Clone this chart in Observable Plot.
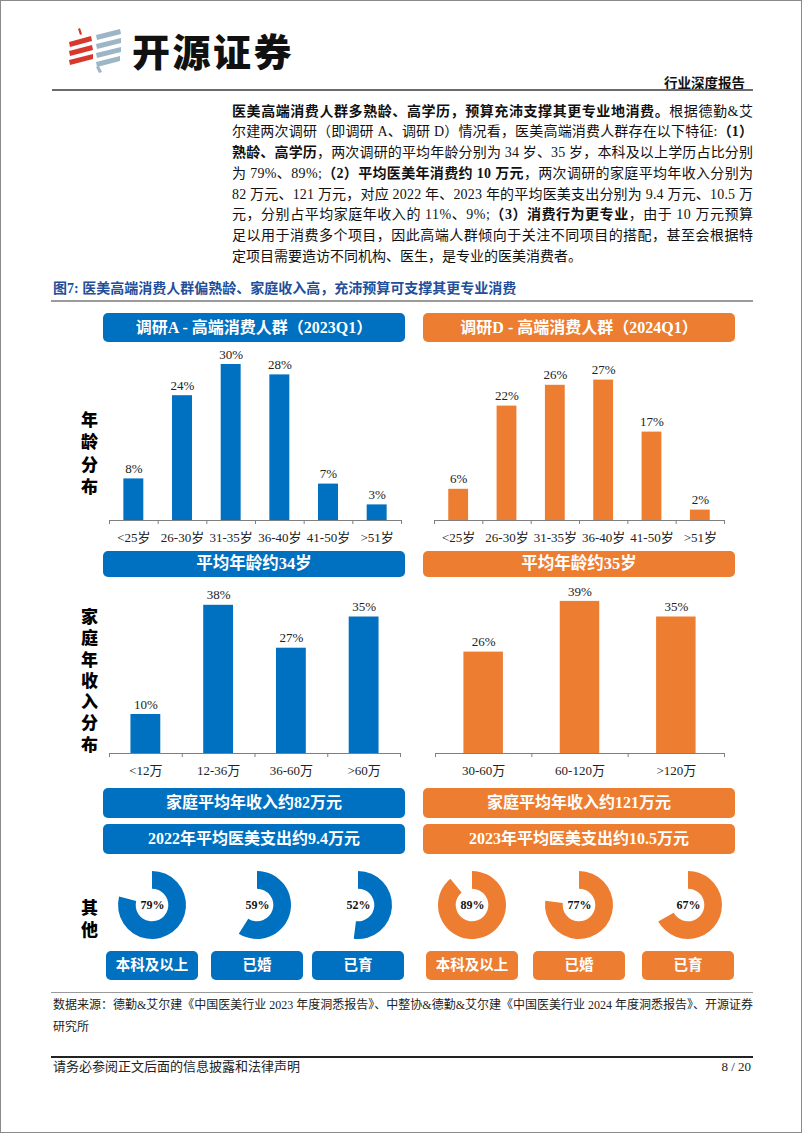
<!DOCTYPE html>
<html>
<head>
<meta charset="utf-8">
<script src="https://cdn.jsdelivr.net/npm/d3@7"></script>
<script src="https://cdn.jsdelivr.net/npm/@observablehq/plot@0.6"></script>
<style>
  html, body { margin: 0; padding: 0; background: #fff; }
  #page { position: relative; width: 802px; height: 1133px; box-sizing: border-box; border: 1px solid #8a8a8a; overflow: hidden;
          font-family: "Liberation Serif", "Noto Sans CJK SC", serif; color: #111; }
  .abs { position: absolute; }
  .para { left: 231px; top: 100.5px; width: 521px; font-size: 14px; line-height: 20.8px; }
  .para div { white-space: nowrap; }
  .box { position: absolute; border-radius: 5px; color: #fff; font-weight: bold; text-align: center; }
  .blue { background: #0070C0; }
  .orange { background: #ED7D31; }
  .vlab { position: absolute; width: 26px; line-height: 26px; writing-mode: vertical-rl; text-orientation: upright;
          font-family: "Noto Sans CJK SC", sans-serif; font-weight: 900; font-size: 17px; color: #000; }
  .chart { position: absolute; }
  .chart svg { overflow: visible; }
</style>
</head>
<body>
<div id="page">
  <!-- logo -->
  <svg class="abs" style="left:64px;top:24px" width="62" height="50" viewBox="0 0 62 50">
    <polygon points="13,4 15,3 17,9 15,10" fill="#D8382C"/>
    <polygon points="4,17 26,11 27,16 5,22" fill="#D8382C"/>
    <polygon points="4,26 27,20 28,25 5,31" fill="#D8382C"/>
    <polygon points="4,35 28,29 28,34 5,40" fill="#D8382C"/>
    <polygon points="31,10 55,4 56,9 32,15" fill="#9CB6C6"/>
    <polygon points="31,19 56,13 56,18 32,24" fill="#9CB6C6"/>
    <polygon points="31,28 56,22 56,27 32,33" fill="#9CB6C6"/>
    <polygon points="31,37 55,31 55,36 32,42" fill="#9CB6C6"/>
    <polygon points="31,42 34,41 37,47 34,48" fill="#9CB6C6"/>
  </svg>
  <div class="abs" style="left:131px;top:24px;font-family:'Noto Sans CJK SC',sans-serif;font-weight:900;font-size:38px;letter-spacing:2.5px;color:#111;line-height:50px;">开源证券</div>
  <div class="abs" style="right:56px;top:71px;font-family:'Noto Sans CJK SC',sans-serif;font-weight:bold;font-size:13.5px;color:#111;">行业深度报告</div>
  <div class="abs" style="left:51px;top:88px;width:701px;height:2px;background:#6b6b6b;"></div>

  <div class="abs para" id="para"></div>

  <div class="abs" id="figtitle" style="left:52px;top:276px;font-family:'Liberation Serif','Noto Sans CJK SC',serif;font-weight:bold;font-size:14px;color:#224E9A;"></div>
  <div class="abs" style="left:50px;top:299px;width:702px;height:1.5px;background:#9a9a9a;"></div>

  <div id="boxes"></div>
  <div id="charts"></div>

  <div class="vlab" style="left:75px;top:409.5px;letter-spacing:5.3px;" id="vl1"></div>
  <div class="vlab" style="left:75px;top:606.5px;letter-spacing:4.3px;" id="vl2"></div>
  <div class="vlab" style="left:75px;top:897.5px;letter-spacing:5px;" id="vl3"></div>

  <div class="abs" style="left:50px;top:991px;width:702px;height:1px;background:#9a9a9a;"></div>
  <div class="abs" id="source" style="left:52px;top:993px;width:700px;font-size:12px;line-height:22px;color:#222;"></div>
  <div class="abs" style="left:50px;top:1055px;width:702px;height:1.6px;background:#222;"></div>
  <div class="abs" style="left:52px;top:1057px;font-size:13px;line-height:18px;color:#222;">请务必参阅正文后面的信息披露和法律声明</div>
  <div class="abs" style="right:50px;top:1057px;font-size:13px;line-height:18px;color:#222;">8 / 20</div>
</div>

<script>
// ---------------- data ----------------
const surveyTitles = ["调研A - 高端消费人群（2023Q1）", "调研D - 高端消费人群（2024Q1）"];
const ageCats = ["<25岁", "26-30岁", "31-35岁", "36-40岁", "41-50岁", ">51岁"];
const ageA = [8, 24, 30, 28, 7, 3];
const ageD = [6, 22, 26, 27, 17, 2];
const avgAge = ["平均年龄约34岁", "平均年龄约35岁"];
const incCatsA = ["<12万", "12-36万", "36-60万", ">60万"];
const incA = [10, 38, 27, 35];
const incCatsD = ["30-60万", "60-120万", ">120万"];
const incD = [26, 39, 35];
const avgIncome = ["家庭平均年收入约82万元", "家庭平均年收入约121万元"];
const avgSpend = ["2022年平均医美支出约9.4万元", "2023年平均医美支出约10.5万元"];
const otherCats = ["本科及以上", "已婚", "已育"];
const otherA = [79, 59, 52];
const otherD = [89, 77, 67];
const rowLabels = ["年龄分布", "家庭年收入分布", "其他"];
const figTitle = "图7: 医美高端消费人群偏熟龄、家庭收入高，充沛预算可支撑其更专业消费";
const paraLines = [
  "<b>医美高端消费人群多熟龄、高学历，预算充沛支撑其更专业地消费。</b>根据德勤&amp;艾",
  "尔建两次调研（即调研 A、调研 D）情况看，医美高端消费人群存在以下特征:<b>（1）</b>",
  "<b>熟龄、高学历</b>，两次调研的平均年龄分别为 34 岁、35 岁，本科及以上学历占比分别",
  "为 79%、89%;<b>（2）平均医美年消费约 10 万元</b>，两次调研的家庭平均年收入分别为",
  "82 万元、121 万元，对应 2022 年、2023 年的平均医美支出分别为 9.4 万元、10.5 万",
  "元，分别占平均家庭年收入的 11%、9%;<b>（3）消费行为更专业</b>，由于 10 万元预算",
  "足以用于消费多个项目，因此高端人群倾向于关注不同项目的搭配，甚至会根据特",
  "定项目需要造访不同机构、医生，是专业的医美消费者。"
];
const sourceLines = [
  "数据来源：德勤&amp;艾尔建《中国医美行业 2023 年度洞悉报告》、中整协&amp;德勤&amp;艾尔建《中国医美行业 2024 年度洞悉报告》、开源证券",
  "研究所"
];
const BLUE = "#0070C0", ORANGE = "#ED7D31";

// ---------------- text ----------------
function justifyLine(div, targetW) {
  const span = document.createElement("span");
  span.innerHTML = div.innerHTML;
  div.innerHTML = "";
  div.appendChild(span);
  const w = span.getBoundingClientRect().width;
  const n = span.textContent.length;
  if (n > 1 && w < targetW) span.style.letterSpacing = ((targetW - w) / (n - 1)) + "px";
}
const para = document.getElementById("para");
para.innerHTML = paraLines.map(l => `<div>${l}</div>`).join("");
[...para.children].forEach((d, i) => { if (i < paraLines.length - 1) justifyLine(d, 521); });

document.getElementById("figtitle").textContent = figTitle;
const src = document.getElementById("source");
src.innerHTML = `<div style="white-space:nowrap">${sourceLines[0]}</div><div>${sourceLines[1]}</div>`;
justifyLine(src.children[0], 700);
document.getElementById("vl1").textContent = rowLabels[0];
document.getElementById("vl2").textContent = rowLabels[1];
document.getElementById("vl3").textContent = rowLabels[2];

// ---------------- boxes ----------------
const boxes = document.getElementById("boxes");
function box(cls, x, y, w, h, text, fs) {
  const d = document.createElement("div");
  d.className = "box " + cls;
  Object.assign(d.style, {left: x + "px", top: y + "px", width: w + "px", height: h + "px",
    lineHeight: h + "px", fontSize: fs + "px"});
  d.textContent = text;
  boxes.appendChild(d);
}
const sides = [{cls: "blue", x: 102, w: 302}, {cls: "orange", x: 422, w: 312}];
sides.forEach((s, k) => {
  box(s.cls, s.x, 312, s.w, 29, surveyTitles[k], 16);
  box(s.cls, s.x, 550, s.w, 26, avgAge[k], 16.5);
  box(s.cls, s.x, 787, s.w, 30, avgIncome[k], 16);
  box(s.cls, s.x, 823, s.w, 30, avgSpend[k], 16);
});
const smallBoxX = [[105, 210, 311], [425, 532, 641]];
const smallW = 92;
smallBoxX.forEach((xs, k) => xs.forEach((x, j) =>
  box(sides[k].cls, x, 950, smallW, 29, otherCats[j], 14.5)));

// ---------------- bar charts ----------------
const charts = document.getElementById("charts");
function place(node, left, top) {
  const wrap = document.createElement("div");
  wrap.className = "chart";
  wrap.style.left = left + "px";
  wrap.style.top = top + "px";
  wrap.appendChild(node);
  charts.appendChild(wrap);
}
function barChart(cats, vals, color, o) {
  const data = cats.map((c, i) => ({c, i, v: vals[i]}));
  const n = cats.length;
  const half = 0.205;
  const tick = 4 / o.pxPerUnit;
  return Plot.plot({
    width: o.width, height: o.marginTop + o.ymax * o.pxPerUnit + o.marginBottom,
    marginLeft: 8, marginRight: o.width - 8 - o.plotW, marginTop: o.marginTop, marginBottom: o.marginBottom,
    x: {domain: [0, n], axis: null},
    y: {domain: [0, o.ymax], axis: null},
    style: {fontFamily: "'Liberation Serif','Noto Sans CJK SC',serif", fontSize: "13px", background: "transparent", overflow: "visible"},
    marks: [
      Plot.rectY(data, {x1: d => d.i + 0.5 - half, x2: d => d.i + 0.5 + half, y1: 0, y2: "v", fill: color}),
      Plot.ruleY([0], {stroke: "#7f7f7f", strokeWidth: 1.2}),
      Plot.ruleX(d3.range(n + 1), {x: d => d, y1: 0, y2: -tick, stroke: "#7f7f7f", strokeWidth: 1}),
      Plot.text(data, {x: d => d.i + 0.5, y: "v", text: d => d.v + "%", dy: -10, fontSize: 13, fill: "#222"}),
      Plot.text(data, {x: d => d.i + 0.5, y: 0, text: "c", dy: 17, fontSize: 13, fill: "#222"})
    ]
  });
}
place(barChart(ageCats, ageA, BLUE, {width: 310, plotW: 292, ymax: 30, pxPerUnit: 5.2, marginTop: 23, marginBottom: 30}), 100, 340);
place(barChart(ageCats, ageD, ORANGE, {width: 310, plotW: 290, ymax: 30, pxPerUnit: 5.2, marginTop: 23, marginBottom: 30}), 425, 340);
place(barChart(incCatsA, incA, BLUE, {width: 310, plotW: 291, ymax: 40, pxPerUnit: 3.9, marginTop: 18, marginBottom: 30}), 100, 578);
place(barChart(incCatsD, incD, ORANGE, {width: 310, plotW: 289, ymax: 40, pxPerUnit: 3.9, marginTop: 18, marginBottom: 30}), 426, 578);

// ---------------- donuts ----------------
function donut(v, color) {
  const angle = d3.scaleLinear().domain([0, 100]).range([0, 2 * Math.PI]);
  const ring = (...args) => {
    const scales = args.find(a => a && typeof a.x === "function" && typeof a.y === "function");
    const cx = scales.x(0), cy = scales.y(0);
    const ro = Math.abs(scales.x(1) - scales.x(0));
    const p = d3.arc()({innerRadius: ro * 0.48, outerRadius: ro, startAngle: 0, endAngle: angle(v)});
    return d3.create("svg:path").attr("transform", `translate(${cx},${cy})`).attr("d", p).attr("fill", color).node();
  };
  return Plot.plot({
    width: 68, height: 68, margin: 0,
    x: {domain: [-1, 1], axis: null},
    y: {domain: [-1, 1], axis: null},
    style: {background: "transparent", overflow: "visible", fontFamily: "'Liberation Serif','Noto Sans CJK SC',serif"},
    marks: [
      ring,
      Plot.text([{v, x: 0, y: 0}], {x: "x", y: "y", text: d => d.v + "%", fontSize: 12, fontWeight: "bold", fill: "#111"})
    ]
  });
}
[[otherA, BLUE, smallBoxX[0]], [otherD, ORANGE, smallBoxX[1]]].forEach(([vals, color, xs]) => {
  vals.forEach((v, j) => place(donut(v, color), xs[j] + smallW / 2 - 34, 869.5));
});
</script>
</body>
</html>
